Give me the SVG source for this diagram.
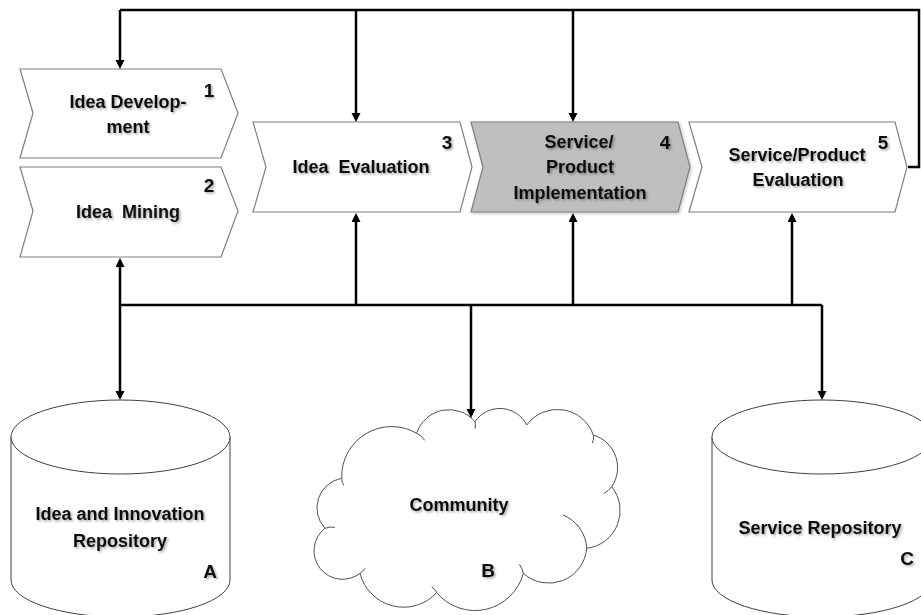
<svg xmlns="http://www.w3.org/2000/svg" width="921" height="615" viewBox="0 0 921 615">
<style>
.chev{fill:#fff;stroke:#7f7f7f;stroke-width:1.2}
.chev.gray{fill:#bfbfbf}
.cyl{fill:#fff;stroke:#404040;stroke-width:1}
.cloud{fill:#fff;stroke:#505050;stroke-width:1}
.t{font-family:"Liberation Sans",Arial,sans-serif;font-weight:bold;font-size:18px;fill:#111;text-anchor:middle;filter:url(#sh);white-space:pre}
.n{font-family:"Liberation Sans",Arial,sans-serif;font-weight:bold;font-size:19px;fill:#111;text-anchor:middle;filter:url(#sh)}
.c{fill:none;stroke:#000;stroke-width:2.5}
.a{fill:none;stroke:#000;stroke-width:2.5;marker-end:url(#ar)}
</style>
<defs>
<filter id="sh" x="-10%" y="-20%" width="130%" height="160%">
<feDropShadow dx="1.5" dy="1.5" stdDeviation="1" flood-color="#000" flood-opacity="0.35"/>
</filter>
<filter id="bs" x="-5%" y="-10%" width="115%" height="130%">
<feDropShadow dx="1" dy="1" stdDeviation="1.5" flood-color="#000" flood-opacity="0.25"/>
</filter>
<marker id="ar" markerUnits="userSpaceOnUse" markerWidth="11" markerHeight="10" refX="6" refY="4.5" orient="auto">
<path d="M0,0 L9,4.5 L0,9 z" fill="#000"/>
</marker>
</defs>

<g id="node1">
<polygon class="chev" points="20,69 221,69 238,113 221,158 20,158 33,113"/>
<text class="t" x="128" y="108">Idea Develop-</text>
<text class="t" x="128" y="133">ment</text>
<text class="n" x="209" y="97">1</text>
</g>
<g id="node2">
<polygon class="chev" points="20,167 221,167 238,211 221,257 20,257 33,211"/>
<text class="t" x="128" y="218" xml:space="preserve">Idea  Mining</text>
<text class="n" x="209" y="192">2</text>
</g>
<g id="node3">
<polygon class="chev" points="253,122 460,122 472,167 460,212 253,212 266,167"/>
<text class="t" x="361" y="173" xml:space="preserve">Idea  Evaluation</text>
<text class="n" x="447" y="149">3</text>
</g>
<g id="node4">
<polygon class="chev gray" filter="url(#bs)" points="471,122 678,122 690,167 678,212 471,212 483,167"/>
<text class="t" x="579" y="148">Service/</text>
<text class="t" x="580" y="173">Product</text>
<text class="t" x="580" y="199">Implementation</text>
<text class="n" x="665" y="149">4</text>
</g>
<g id="node5">
<polygon class="chev" points="689,122 895,122 907,167 895,212 689,212 702,167"/>
<text class="t" x="797" y="161">Service/Product</text>
<text class="t" x="798" y="186">Evaluation</text>
<text class="n" x="883" y="149">5</text>
</g>

<g id="nodeA">
<path class="cyl" d="M11,437 V580 A109.5,37 0 0 0 230,580 V437"/>
<ellipse class="cyl" cx="120.5" cy="437" rx="109.5" ry="37"/>
<text class="t" x="120" y="520">Idea and Innovation</text>
<text class="t" x="120" y="547">Repository</text>
<text class="n" x="210" y="578">A</text>
</g>

<g id="nodeB">
<path class="cloud" d="M341.7,478.3 A50,50 0 0 1 416.7,433.3 A34,34 0 0 1 475,421.7 A30,30 0 0 1 526.7,425 A38,38 0 0 1 593.3,435 A34,34 0 0 1 611.7,486.7 A38,38 0 0 1 586.7,548.3 A38,38 0 0 1 523.3,573.3 A50,50 0 0 1 436.7,592.7 A45,45 0 0 1 360,573.3 A28,28 0 0 1 325,528.3 A30,30 0 0 1 341.7,478.3 Z"/>
<path class="cloud" fill="none" d="M416.7,433.3 q5,2 8,7 M475,421.7 q1,3 0,7 M593.3,435 q1,4 -1,8 M611.7,486.7 q-3,4 -8,7 M563,515 A38,38 0 0 1 586.7,548.3 M523.3,573.3 q-1,-5 -4,-9 M436.7,592.7 q-2,-4 -5,-6 M360,573.3 q3,-2 5,-5 M325,528.3 q5,-2 10,-1 M341.7,478.3 q0,4 2,7"/>
<text class="t" x="459" y="511">Community</text>
<text class="n" x="488" y="577">B</text>
</g>

<g id="nodeC">
<path class="cyl" d="M712,437 V580 A110,37 0 0 0 932,580 V437"/>
<ellipse class="cyl" cx="822" cy="437" rx="110" ry="37"/>
<text class="t" x="820" y="534">Service Repository</text>
<text class="n" x="907" y="565">C</text>
</g>

<g id="connectors">
<path class="c" d="M120,10 H919 V167 H908"/>
<path class="a" d="M120,10 V66"/>
<path class="a" d="M356,10 V119"/>
<path class="a" d="M573,10 V119"/>
<path class="c" d="M120,305 H822"/>
<path class="a" d="M120,305 V261"/>
<path class="a" d="M120,305 V397"/>
<path class="a" d="M356,305 V216"/>
<path class="a" d="M573,305 V216"/>
<path class="a" d="M792,305 V216"/>
<path class="a" d="M471,305 V415"/>
<path class="a" d="M822,305 V397"/>
</g>
</svg>
